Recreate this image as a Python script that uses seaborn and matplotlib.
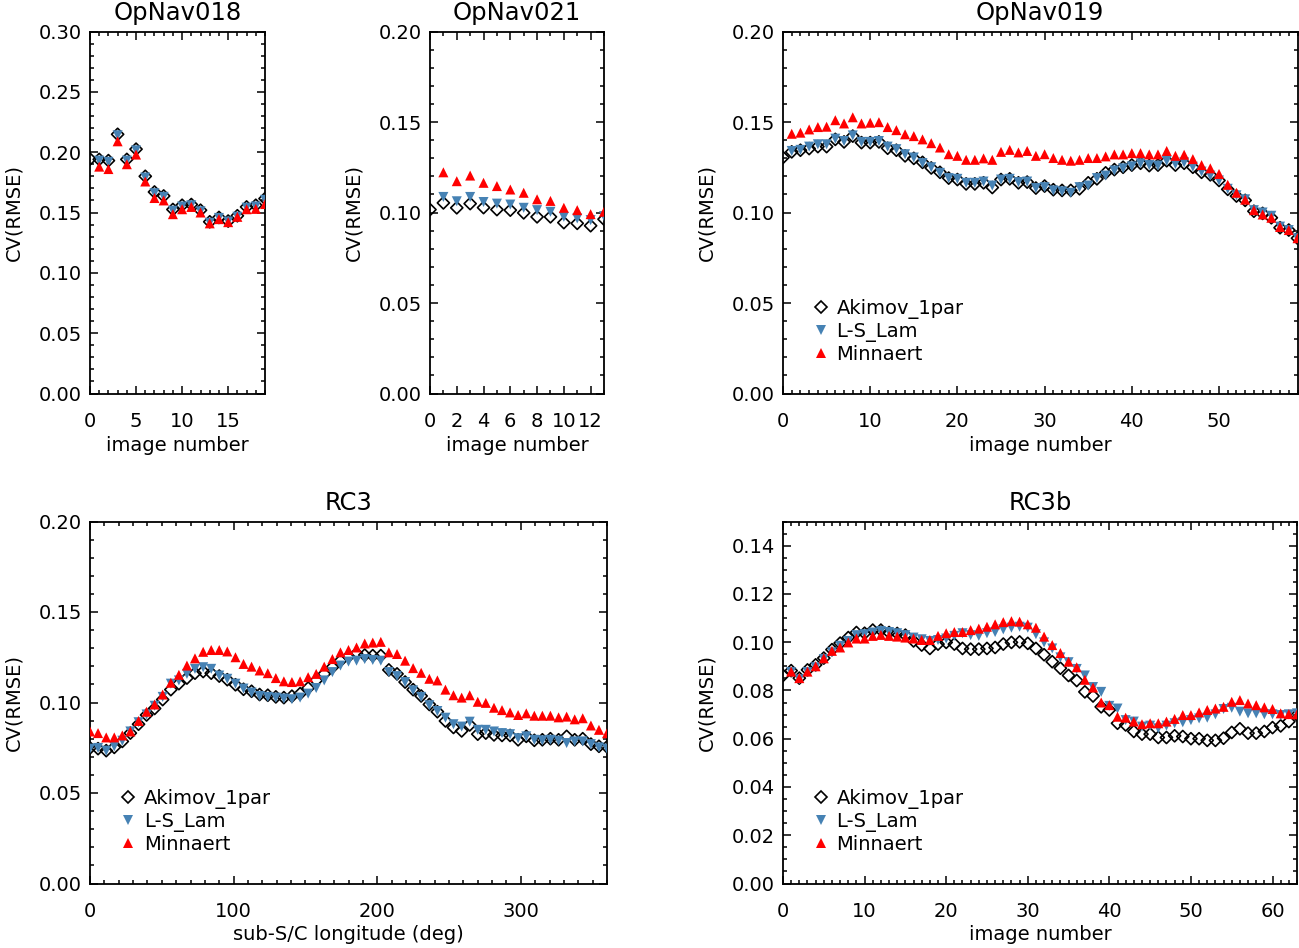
import numpy as np
import matplotlib
matplotlib.use("Agg")
import matplotlib.pyplot as plt
import seaborn as sns
from matplotlib.ticker import MultipleLocator, FormatStrFormatter
from matplotlib.lines import Line2D

nan = np.nan

# ---------------- data ----------------
labels = ["Akimov_1par", "L-S_Lam", "Minnaert"]

img_018 = list(range(20))
akimov_018 = [0.1943, 0.194, 0.193, 0.2148, 0.194, 0.2025, 0.180, 0.167, 0.1637, 0.1525,
              0.156, 0.1566, 0.1519, 0.1423, 0.1459, 0.1429, 0.1473, 0.1546, 0.156, 0.1615]
lslam_018 = [nan, 0.193, 0.192, 0.214, 0.193, 0.2015, 0.179, 0.166, 0.163, 0.1515,
             0.155, 0.156, 0.151, 0.1415, 0.1455, 0.1425, 0.1465, 0.154, 0.155, 0.1605]
minn_018 = [nan, 0.188, 0.186, 0.209, 0.190, 0.198, 0.1757, 0.162, 0.160, 0.1486,
            0.1527, 0.1546, 0.150, 0.141, 0.1445, 0.142, 0.1464, 0.1527, 0.153, 0.157]

img_021 = list(range(14))
akimov_021 = [0.1016, 0.1053, 0.1026, 0.1049, 0.1027, 0.1016, 0.1013, 0.0998, 0.0976, 0.0976,
              0.0944, 0.0940, 0.0927, 0.0963]
lslam_021 = [nan, 0.1086, 0.1062, 0.1086, 0.1058, 0.1049, 0.1044, 0.1026, 0.1013, 0.1004,
             0.0976, 0.0967, 0.0958, 0.0980]
minn_021 = [nan, 0.1222, 0.1173, 0.1204, 0.1164, 0.1146, 0.1127, 0.1109, 0.1073, 0.1064,
            0.1026, 0.1013, 0.0991, 0.1004]

img_019 = list(range(60))
akimov_019 = [0.1304, 0.1335, 0.1344, 0.1353, 0.1364, 0.1364, 0.1404, 0.1390, 0.1422, 0.1386,
              0.1386, 0.1390, 0.1355, 0.1344, 0.1313, 0.1299, 0.1277, 0.1246, 0.1222, 0.1190,
              0.1182, 0.1158, 0.1158, 0.1164, 0.1138, 0.1182, 0.1186, 0.1164, 0.1168, 0.1135,
              0.1146, 0.1126, 0.1122, 0.1122, 0.1131, 0.1164, 0.1186, 0.1219, 0.1237, 0.1250,
              0.1262, 0.1272, 0.1259, 0.1262, 0.1286, 0.1262, 0.1272, 0.1250, 0.1222, 0.1208,
              0.1177, 0.1128, 0.1091, 0.1067, 0.1007, 0.0995, 0.0971, 0.0916, 0.0903, 0.0858]
lslam_019 = [nan, 0.1340, 0.1346, 0.1364, 0.1377, 0.1377, 0.1408, 0.1395, 0.1426, 0.1390,
             0.1390, 0.1395, 0.1364, 0.1350, 0.1322, 0.1304, 0.1273, 0.1250, 0.1219, 0.1190,
             0.1186, 0.1164, 0.1164, 0.1171, 0.1149, 0.1182, 0.1186, 0.1168, 0.1171, 0.1135,
             0.1140, 0.1122, 0.1117, 0.1109, 0.1140, 0.1149, 0.1190, 0.1204, 0.1232, 0.1244,
             0.1255, 0.1272, 0.1262, 0.1259, 0.1286, 0.1268, 0.1277, 0.1253, 0.1226, 0.1204,
             0.1177, 0.1131, 0.1095, 0.1073, 0.1013, 0.1000, 0.0982, 0.0922, 0.0903, 0.0858]
minn_019 = [nan, 0.1435, 0.1441, 0.1459, 0.1472, 0.1474, 0.1510, 0.1492, 0.1526, 0.1492,
            0.1496, 0.1499, 0.1472, 0.1455, 0.1432, 0.1422, 0.1404, 0.1383, 0.1359, 0.1322,
            0.1313, 0.1291, 0.1291, 0.1299, 0.1291, 0.1335, 0.1346, 0.1332, 0.1340, 0.1313,
            0.1322, 0.1301, 0.1291, 0.1286, 0.1291, 0.1301, 0.1301, 0.1310, 0.1321, 0.1321,
            0.1328, 0.1328, 0.1321, 0.1321, 0.1340, 0.1313, 0.1319, 0.1295, 0.1262, 0.1244,
            0.1213, 0.1153, 0.1109, 0.1071, 0.1013, 0.0989, 0.0971, 0.0920, 0.0903, 0.0858]

lon_rc3 = [0, 5.6, 11.3, 16.9, 22.5, 28.1, 33.8, 39.4, 45, 50.6, 56.3, 61.9, 67.5, 73.1,
           78.8, 84.4, 90, 95.6, 101.3, 106.9, 112.5, 118.1, 123.8, 129.4, 135, 140.6,
           146.3, 151.9, 157.5, 163.1, 168.8, 174.4, 180, 185.6, 191.3, 196.9, 202.5, 208.1,
           213.8, 219.4, 225, 230.6, 236.3, 241.9, 247.5, 253.1, 258.8, 264.4, 270, 275.6,
           281.3, 286.9, 292.5, 298.1, 303.8, 309.4, 315, 320.6, 326.3, 331.9, 337.5, 343.1,
           348.8, 354.4, 360]
akimov_rc3 = [0.0749, 0.0745, 0.0734, 0.0752, 0.0785, 0.0831, 0.0880, 0.0931, 0.0967, 0.1016,
              0.1071, 0.1104, 0.1135, 0.1162, 0.1171, 0.1162, 0.1146, 0.1126, 0.1098, 0.1073,
              0.1062, 0.1044, 0.1040, 0.1031, 0.1027, 0.1035, 0.1049, 0.1080, 0.1122, 0.1158,
              0.1195, 0.1231, 0.1255, 0.1271, 0.1262, 0.1259, 0.1259, 0.1180, 0.1158, 0.1113,
              0.1071, 0.1036, 0.0989, 0.0949, 0.0898, 0.0862, 0.0843, 0.0876, 0.0825, 0.0831,
              0.0821, 0.0818, 0.0818, 0.0794, 0.0813, 0.0791, 0.0794, 0.0800, 0.0794, 0.0813,
              0.0794, 0.0800, 0.0770, 0.0758, 0.0755]
lslam_rc3 = [0.0745, 0.0749, 0.0734, 0.0758, 0.0789, 0.0840, 0.0891, 0.0934, 0.0982, 0.1031,
             0.1104, 0.1122, 0.1158, 0.1186, 0.1195, 0.1186, 0.1149, 0.1131, 0.1104, 0.1077,
             0.1055, 0.1036, 0.1031, 0.1027, 0.1022, 0.1018, 0.1027, 0.1049, 0.1080, 0.1122,
             0.1168, 0.1204, 0.1226, 0.1231, 0.1240, 0.1235, 0.1231, 0.1168, 0.1146, 0.1113,
             0.1067, 0.1031, 0.0985, 0.0953, 0.0916, 0.0880, 0.0867, 0.0894, 0.0849, 0.0849,
             0.0840, 0.0831, 0.0825, 0.0803, 0.0813, 0.0794, 0.0791, 0.0794, 0.0789, 0.0776,
             0.0785, 0.0785, 0.0770, 0.0752, 0.0745]
minn_rc3 = [0.0840, 0.0831, 0.0807, 0.0807, 0.0818, 0.0840, 0.0898, 0.0949, 0.0989, 0.1044,
            0.1109, 0.1153, 0.1204, 0.1244, 0.1280, 0.1290, 0.1290, 0.1282, 0.1250, 0.1213,
            0.1198, 0.1177, 0.1162, 0.1135, 0.1117, 0.1113, 0.1117, 0.1140, 0.1158, 0.1198,
            0.1240, 0.1277, 0.1290, 0.1304, 0.1326, 0.1331, 0.1335, 0.1277, 0.1268, 0.1231,
            0.1190, 0.1164, 0.1131, 0.1122, 0.1071, 0.1040, 0.1027, 0.1040, 0.1004, 0.0998,
            0.0971, 0.0958, 0.0945, 0.0931, 0.0940, 0.0927, 0.0927, 0.0927, 0.0918, 0.0922,
            0.0907, 0.0913, 0.0873, 0.0849, 0.0830]

img_rc3b = list(range(64))
akimov_rc3b = [0.0862, 0.0882, 0.0851, 0.0885, 0.0906, 0.0934, 0.0969, 0.0996, 0.1019, 0.1040,
               0.1037, 0.1050, 0.1050, 0.1040, 0.1036, 0.1029, 0.1005, 0.0988, 0.0974, 0.0992,
               0.0999, 0.0992, 0.0974, 0.0971, 0.0971, 0.0974, 0.0978, 0.0992, 0.0999, 0.1001,
               0.0995, 0.0974, 0.0948, 0.0919, 0.0892, 0.0862, 0.0841, 0.0794, 0.0777, 0.0732,
               0.0719, 0.0664, 0.0657, 0.0630, 0.0619, 0.0619, 0.0605, 0.0605, 0.0612, 0.0609,
               0.0600, 0.0600, 0.0593, 0.0593, 0.0602, 0.0626, 0.0641, 0.0623, 0.0623, 0.0630,
               0.0646, 0.0653, 0.0671, 0.0698]
lslam_rc3b = [nan, 0.0876, 0.0846, 0.0876, 0.0896, 0.0930, 0.0958, 0.0985, 0.1005, 0.1029,
              0.1033, 0.1040, 0.1046, 0.1042, 0.1037, 0.1029, 0.1019, 0.1012, 0.1005, 0.1009,
              0.1015, 0.1026, 0.1037, 0.1029, 0.1026, 0.1037, 0.1042, 0.1053, 0.1060, 0.1064,
              0.1060, 0.1033, 0.0999, 0.0974, 0.0937, 0.0917, 0.0889, 0.0862, 0.0814, 0.0794,
              0.0736, 0.0725, 0.0677, 0.0671, 0.0650, 0.0654, 0.0643, 0.0654, 0.0664, 0.0668,
              0.0677, 0.0684, 0.0687, 0.0701, 0.0723, 0.0728, 0.0712, 0.0705, 0.0705, 0.0701,
              0.0701, 0.0698, 0.0701, 0.0705]
minn_rc3b = [nan, 0.0878, 0.0851, 0.0878, 0.0900, 0.0933, 0.0964, 0.0978, 0.0999, 0.1015,
             0.1015, 0.1026, 0.1030, 0.1026, 0.1023, 0.1019, 0.1015, 0.1009, 0.1009, 0.1026,
             0.1037, 0.1042, 0.1042, 0.1050, 0.1056, 0.1064, 0.1074, 0.1083, 0.1087, 0.1085,
             0.1074, 0.1060, 0.1023, 0.0988, 0.0955, 0.0919, 0.0896, 0.0844, 0.0812, 0.0750,
             0.0739, 0.0691, 0.0687, 0.0671, 0.0660, 0.0664, 0.0664, 0.0671, 0.0682, 0.0698,
             0.0698, 0.0709, 0.0719, 0.0725, 0.0732, 0.0753, 0.0760, 0.0746, 0.0739, 0.0730,
             0.0723, 0.0705, 0.0702, 0.0701]

# ---------------- style ----------------
sns.set_style("ticks")
plt.rcParams['font.family'] = ['DejaVu Sans']
plt.rcParams.update({
    'text.color': 'black', 'axes.labelcolor': 'black',
    'xtick.color': 'black', 'ytick.color': 'black',
    'axes.edgecolor': 'black',
})

BLUE = '#4682B4'
RED = '#FF0000'
FS = 14
TFS = 17.5

W, H = 1299, 948
fig = plt.figure(figsize=(W / 100, H / 100), dpi=100)


def make_axes(l, t, r, b):
    return fig.add_axes([l / W, 1 - b / H, (r - l) / W, (b - t) / H])


def draw(ax, x, a, b, c):
    sns.scatterplot(x=x, y=a, ax=ax, marker='D', s=38, facecolors='none',
                    edgecolor='black', linewidth=1.2, zorder=3, legend=False)
    sns.scatterplot(x=x, y=b, ax=ax, marker='v', s=52, color=BLUE,
                    edgecolor='none', linewidth=0, zorder=4, legend=False)
    sns.scatterplot(x=x, y=c, ax=ax, marker='^', s=52, color=RED,
                    edgecolor='none', linewidth=0, zorder=5, legend=False)


def style(ax, title, xlabel, xlim, ylim, xmaj, xmin, ymaj, ymin, width_px):
    ax.set_xlim(*xlim)
    ax.set_ylim(*ylim)
    ax.xaxis.set_major_locator(MultipleLocator(xmaj))
    ax.xaxis.set_minor_locator(MultipleLocator(xmin))
    ax.yaxis.set_major_locator(MultipleLocator(ymaj))
    ax.yaxis.set_minor_locator(MultipleLocator(ymin))
    ax.yaxis.set_major_formatter(FormatStrFormatter('%.2f'))
    ax.xaxis.set_major_formatter(FormatStrFormatter('%d'))
    ax.tick_params(which='both', direction='in', top=True, right=True,
                   width=1.1, labelsize=FS)
    ax.tick_params(which='major', length=5.5)
    ax.tick_params(which='minor', length=2.7)
    ax.tick_params(axis='x', which='both', pad=13.5)
    ax.tick_params(axis='y', which='both', pad=6)
    for sp in ax.spines.values():
        sp.set_linewidth(1.3)
        sp.set_visible(True)
    ax.set_title(title, fontsize=TFS, pad=8)
    ax.set_xlabel(xlabel, fontsize=FS)
    ax.set_ylabel('CV(RMSE)', fontsize=FS)
    ax.xaxis.set_label_coords(0.5, -42.0 / 362)
    ax.yaxis.set_label_coords(-67.0 / width_px, 0.5)


def add_legend(ax):
    handles = [
        Line2D([], [], linestyle='none', marker='D', markersize=6.4,
               markerfacecolor='none', markeredgecolor='black', markeredgewidth=1.2),
        Line2D([], [], linestyle='none', marker='v', markersize=7.2,
               color=BLUE, markeredgewidth=0),
        Line2D([], [], linestyle='none', marker='^', markersize=7.2,
               color=RED, markeredgewidth=0),
    ]
    ax.legend(handles, labels, loc='upper left', bbox_to_anchor=(0.055, 0.262),
              frameon=False, fontsize=FS, handlelength=1.0, handletextpad=0.3,
              borderpad=0, borderaxespad=0, labelspacing=0.17)


ax1 = make_axes(90, 31.5, 265, 393.5)
draw(ax1, img_018, akimov_018, lslam_018, minn_018)
style(ax1, 'OpNav018', 'image number', (0, 19), (0, 0.30), 5, 1, 0.05, 0.01, 175)

ax2 = make_axes(430, 31.5, 604, 393.5)
draw(ax2, img_021, akimov_021, lslam_021, minn_021)
style(ax2, 'OpNav021', 'image number', (0, 13), (0, 0.20), 2, 1, 0.05, 0.01, 174)

ax3 = make_axes(783, 31.5, 1297.5, 393.5)
draw(ax3, img_019, akimov_019, lslam_019, minn_019)
style(ax3, 'OpNav019', 'image number', (0, 59), (0, 0.20), 10, 1, 0.05, 0.01, 514.5)
add_legend(ax3)

ax4 = make_axes(90, 521.5, 607, 883.5)
draw(ax4, lon_rc3, akimov_rc3, lslam_rc3, minn_rc3)
style(ax4, 'RC3', 'sub-S/C longitude (deg)', (0, 360), (0, 0.20), 100, 10, 0.05, 0.01, 517)
add_legend(ax4)

ax5 = make_axes(783, 521.5, 1297, 883.5)
draw(ax5, img_rc3b, akimov_rc3b, lslam_rc3b, minn_rc3b)
style(ax5, 'RC3b', 'image number', (0, 63), (0, 0.15), 10, 1, 0.02, 0.005, 514)
add_legend(ax5)

fig.savefig('out.png', dpi=100, facecolor='white')
